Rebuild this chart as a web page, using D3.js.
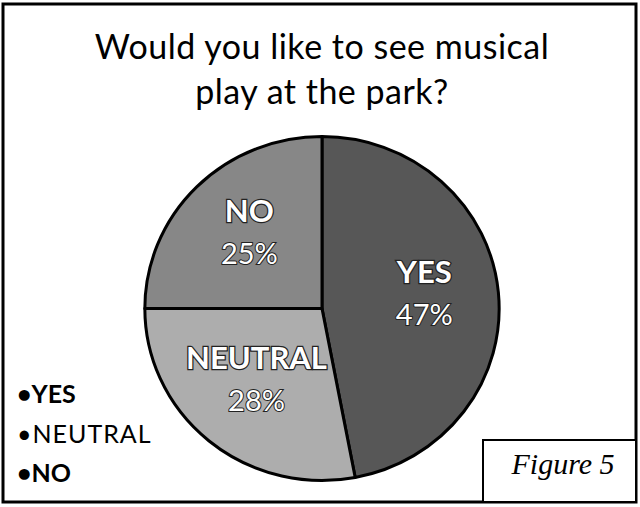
<!DOCTYPE html>
<html>
<head>
<meta charset="utf-8">
<script src="https://cdn.jsdelivr.net/npm/d3@7"></script>
<style>
  html, body { margin: 0; padding: 0; background: #fff; }
  svg { display: block; }
</style>
</head>
<body>
<div id="chart"></div>
<script>
// data
const categories = ['YES', 'NEUTRAL', 'NO'];
const values = [47, 28, 25];
const titleLines = ['Would you like to see musical', 'play at the park?'];
const figureLabel = 'Figure 5';

const width = 640;
const height = 507;
const cx = 322, cy = 308.5, radius = 172;
const font = 'Lato, "Open Sans", sans-serif';

const color = d3.scaleOrdinal()
    .domain(categories)
    .range(['#575757', '#adadad', '#878787']);

const svg = d3.select('#chart')
    .append('svg')
    .attr('width', width)
    .attr('height', height);

// khung ngoài
svg.append('rect')
    .attr('x', 3).attr('y', 4)
    .attr('width', 633).attr('height', 498)
    .attr('fill', '#fff')
    .attr('stroke', '#000')
    .attr('stroke-width', 3);

// tiêu đề
svg.append('g')
    .selectAll('text')
    .data(titleLines)
    .enter()
    .append('text')
    .attr('x', 322)
    .attr('y', (d, i) => 59 + i * 45)
    .attr('text-anchor', 'middle')
    .style('font-family', font)
    .style('font-size', '34px')
    .style('letter-spacing', '0.5px')
    .attr('fill', '#000')
    .text(d => d);

// pie
const pie = d3.pie().sort(null).value(d => d.value);
const arcs = pie(categories.map((c, i) => ({ label: c, value: values[i] })));
const arc = d3.arc().innerRadius(0).outerRadius(radius);

// hình hơi bị kéo ngang trong bản scan
const g = svg.append('g').attr('transform', `translate(${cx}, ${cy}) scale(1.03, 1)`);

g.selectAll('path')
    .data(arcs)
    .enter()
    .append('path')
    .attr('d', arc)
    .attr('fill', d => color(d.data.label))
    .attr('stroke', '#000')
    .attr('stroke-width', 3)
    .attr('stroke-linejoin', 'round')
    .attr('vector-effect', 'non-scaling-stroke');

// nhãn trong lát
const labelArc = d3.arc().innerRadius(radius * 0.58).outerRadius(radius * 0.58);
const labels = svg.append('g')
    .attr('transform', `translate(${cx}, ${cy})`)
    .selectAll('.slice-label')
    .data(arcs)
    .enter()
    .append('g')
    .attr('class', 'slice-label')
    .attr('transform', d => {
        const [x, y] = labelArc.centroid(d);
        return `translate(${x * 1.03}, ${y - 6})`;
    });

labels.append('text')
    .attr('y', -10)
    .attr('text-anchor', 'middle')
    .style('font-family', font)
    .style('font-size', '31px')
    .style('font-weight', 'bold')
    .attr('fill', '#fff')
    .attr('stroke', '#222')
    .attr('stroke-width', 2.5)
    .style('paint-order', 'stroke')
    .text(d => d.data.label);

labels.append('text')
    .attr('y', 32)
    .attr('text-anchor', 'middle')
    .style('font-family', font)
    .style('font-size', '29px')
    .attr('fill', '#fff')
    .attr('stroke', '#222')
    .attr('stroke-width', 2)
    .style('paint-order', 'stroke')
    .text(d => `${d.data.value}%`);

// chú thích
svg.append('g')
    .selectAll('text')
    .data(categories)
    .enter()
    .append('text')
    .attr('x', 17)
    .attr('y', (d, i) => 403 + i * 39.5)
    .style('font-family', font)
    .style('font-size', '25px')
    .style('font-weight', d => d === 'NEUTRAL' ? 'normal' : 'bold')
    .style('letter-spacing', d => d === 'NEUTRAL' ? '1px' : '0px')
    .attr('fill', '#000')
    .text(d => '\u2022' + d);

// ô Figure
svg.append('rect')
    .attr('x', 483).attr('y', 440)
    .attr('width', 153).attr('height', 62)
    .attr('fill', '#fff')
    .attr('stroke', '#000')
    .attr('stroke-width', 2);

svg.append('text')
    .attr('x', 563)
    .attr('y', 474)
    .attr('text-anchor', 'middle')
    .style('font-family', '"Liberation Serif", "DejaVu Serif", serif')
    .style('font-size', '30px')
    .style('font-style', 'italic')
    .attr('fill', '#000')
    .text(figureLabel);
</script>
</body>
</html>
